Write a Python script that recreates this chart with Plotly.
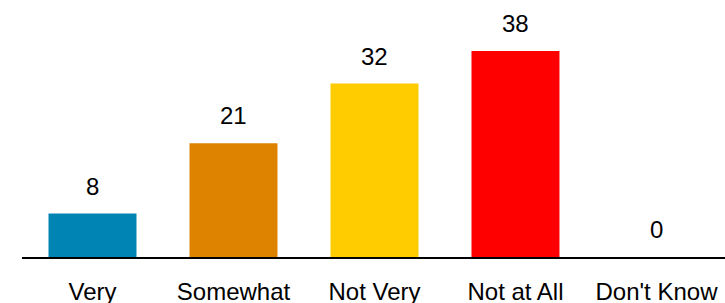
import plotly.graph_objects as go

categories = ["Very", "Somewhat", "Not Very", "Not at All", "Don't Know"]
values = [8, 21, 32, 38, 0]
colors = ["#0084B4", "#DE8300", "#FFCC00", "#FF0000", "#FFFFFF"]

fig = go.Figure()
fig.add_trace(go.Bar(
    x=categories, y=values, width=0.624,
    marker=dict(color=colors, line=dict(width=0)),
    hoverinfo="skip",
))
for c, v in zip(categories, values):
    fig.add_annotation(x=c, y=v, text=str(v), showarrow=False,
                       yanchor="bottom", yshift=12,
                       font=dict(family="Liberation Sans", size=24, color="#000000"))

fig.update_layout(
    width=725, height=303,
    margin=dict(l=22, r=0, t=0, b=46),
    paper_bgcolor="white", plot_bgcolor="white",
    showlegend=False,
    xaxis=dict(type="category", range=[-0.5, 4.486], showline=True, linecolor="black",
               linewidth=1.5, showgrid=False, ticks="outside", ticklen=12,
               tickcolor="rgba(0,0,0,0)", automargin=False,
               tickfont=dict(family="Liberation Sans", size=24, color="#000000")),
    yaxis=dict(range=[0, 47.4], visible=False, showgrid=False, zeroline=False,
               automargin=False),
)
fig.write_html("out.html", config={"displayModeBar": False},
               post_script="document.body.style.margin='0';"
               "document.body.style.overflow='hidden';"
               "document.documentElement.style.overflow='hidden';")
